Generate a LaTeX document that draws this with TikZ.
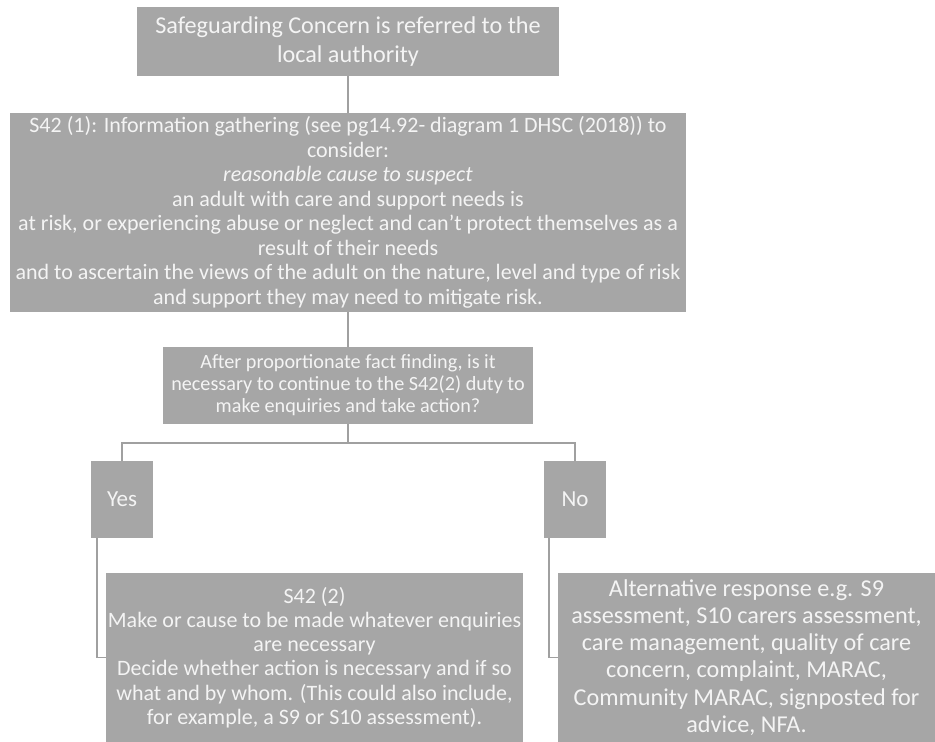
\documentclass[tikz,border=0pt]{standalone}
\usepackage{fontspec}
\setmainfont{Carlito}
\definecolor{boxgray}{HTML}{A6A6A6}
\definecolor{boxtext}{HTML}{F4F4F4}
\definecolor{linegray}{HTML}{A0A0A0}
\tikzset{
  box/.style={fill=boxgray, text=boxtext, align=center, inner sep=0pt, anchor=center},
  conn/.style={draw=linegray, line width=1.5pt}
}
\begin{document}
\begin{tikzpicture}[x=1pt,y=-1pt]
\useasboundingbox (0,0) rectangle (935,742);
\node[box, minimum width=422pt, minimum height=69pt, font=\fontsize{24.2}{29.5}\selectfont] (top) at (348,41.5)
  {Safeguarding Concern is referred to the\\local authority};
\node[box, minimum width=676pt, minimum height=199pt, font=\fontsize{22}{24.5}\selectfont] (info) at (348,212.5)
  {S42 (1): Information gathering (see pg14.92- diagram 1 DHSC (2018)) to\\consider:\\\textit{reasonable cause to suspect}\\an adult with care and support needs is\\at risk, or experiencing abuse or neglect and can’t protect themselves as a\\result of their needs\\and to ascertain the views of the adult on the nature, level and type of risk\\and support they may need to mitigate risk.};
\node[box, minimum width=370pt, minimum height=77pt, font=\fontsize{20.2}{22}\selectfont] (q) at (348,385.5)
  {After proportionate fact finding, is it\\necessary to continue to the S42(2) duty to\\make enquiries and take action?};
\node[box, minimum width=62pt, minimum height=77pt, font=\fontsize{23}{26}\selectfont] (yes) at (122,499.5) {Yes};
\node[box, minimum width=62pt, minimum height=77pt, font=\fontsize{23}{26}\selectfont] (no) at (575,499.5) {No};
\node[box, minimum width=417pt, minimum height=169pt, font=\fontsize{22}{24.2}\selectfont] (s42) at (314.5,657.5)
  {S42 (2)\\Make or cause to be made whatever enquiries\\are necessary\\Decide whether action is necessary and if so\\what and by whom. (This could also include,\\for example, a S9 or S10 assessment).};
\node[box, minimum width=377pt, minimum height=169pt, font=\fontsize{24.2}{27.2}\selectfont] (alt) at (746.5,657.5)
  {Alternative response e.g. S9\\assessment, S10 carers assessment,\\care management, quality of care\\concern, complaint, MARAC,\\Community MARAC, signposted for\\advice, NFA.};
\coordinate (br) at (348,443);
\draw[conn] (top.south) -- (info.north);
\draw[conn] (info.south) -- (q.north);
\draw[conn] (q.south) -- (br);
\draw[conn] (br) -| (yes.north);
\draw[conn] (br) -| (no.north);
\draw[conn] ([xshift=-25pt]yes.south) |- (s42.west);
\draw[conn] ([xshift=-26pt]no.south) |- (alt.west);
\end{tikzpicture}
\end{document}
